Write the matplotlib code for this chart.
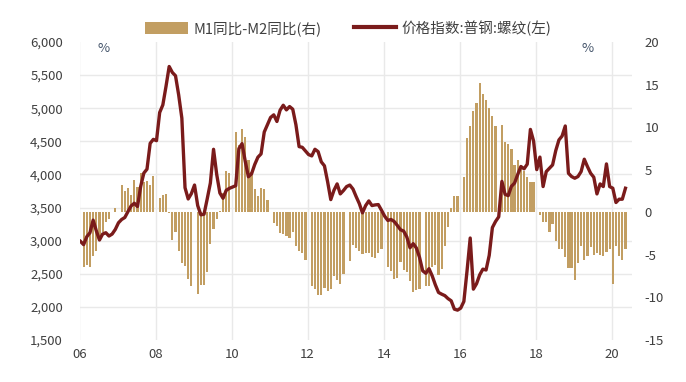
import numpy as np
import matplotlib
matplotlib.use("Agg")
import matplotlib.pyplot as plt
from matplotlib.patches import Patch
from matplotlib.lines import Line2D

plt.rcParams['font.family'] = ['Noto Sans CJK SC', 'DejaVu Sans']

nan = np.nan
# M1 YoY - M2 YoY (%, right axis), monthly Jan..Dec
spread_2006 = [nan, -6.4, -6.2, -6.4, -5.1, -4.5, -3.1, -2.3, -1.1, -0.8, 0.0, 0.5]
spread_2007 = [nan, 3.2, 2.5, 2.9, 2.0, 3.8, 3.0, 4.6, 3.6, 3.7, 3.2, 4.3]
spread_2008 = [nan, 1.7, 2.0, 2.1, -0.1, -3.2, -2.3, -4.6, -5.9, -6.3, -7.8, -8.7]
spread_2009 = [nan, -9.6, -8.5, -8.5, -7.0, -3.7, -2.0, -0.8, 0.2, 2.3, 4.8, 4.6]
spread_2010 = [nan, 9.4, 7.9, 9.8, 8.8, 6.1, 4.7, 2.7, 1.9, 2.8, 2.7, 1.5]
spread_2011 = [nan, -1.2, -1.6, -2.4, -2.5, -2.8, -3.0, -2.3, -4.0, -4.5, -4.8, -5.6]
spread_2012 = [nan, -8.6, -9.0, -9.7, -9.7, -8.9, -9.3, -9.0, -7.5, -8.0, -8.4, -7.3]
spread_2013 = [nan, -5.7, -3.8, -4.2, -4.5, -4.9, -4.8, -4.8, -5.3, -5.4, -4.8, -4.3]
spread_2014 = [nan, -6.4, -6.9, -7.8, -7.7, -5.8, -6.8, -7.0, -8.1, -9.4, -9.1, -9.0]
spread_2015 = [nan, -8.6, -8.7, -6.4, -6.2, -7.4, -6.7, -4.0, -1.7, 0.5, 1.9, 1.9]
spread_2016 = [nan, 4.1, 8.7, 10.1, 11.9, 12.8, 15.2, 13.9, 13.2, 12.3, 11.3, 10.1]
spread_2017 = [nan, 10.3, 8.2, 8.0, 7.4, 5.6, 6.1, 5.1, 4.8, 4.2, 3.6, 3.6]
spread_2018 = [nan, -0.3, -1.1, -1.1, -2.3, -1.4, -3.4, -4.3, -4.3, -5.3, -6.5, -6.6]
spread_2019 = [-8.0, -6.0, -4.0, -5.6, -5.1, -4.1, -5.0, -4.8, -5.0, -5.1, -4.7, -4.3]
spread_2020 = [-8.4, -4.0, -5.1, -5.6, -4.3]

# Rebar price index (left axis), monthly Jan..Dec
price_2006 = [2990, 2940, 3060, 3120, 3310, 3150, 3010, 3100, 3120, 3070, 3100, 3170]
price_2007 = [3270, 3320, 3350, 3440, 3525, 3565, 3515, 3817, 4020, 4080, 4470, 4530]
price_2008 = [4510, 4935, 5050, 5330, 5630, 5540, 5490, 5200, 4850, 3800, 3630, 3710]
price_2009 = [3840, 3530, 3390, 3400, 3630, 3870, 4380, 4000, 3720, 3640, 3760, 3790]
price_2010 = [3810, 3830, 4390, 4465, 4200, 3965, 4010, 4150, 4260, 4310, 4640, 4750]
price_2011 = [4860, 4900, 4800, 4970, 5045, 4975, 5025, 4985, 4750, 4420, 4410, 4355]
price_2012 = [4300, 4280, 4380, 4345, 4190, 4130, 3890, 3620, 3760, 3857, 3706, 3757]
price_2013 = [3817, 3840, 3780, 3666, 3560, 3420, 3530, 3600, 3530, 3540, 3545, 3460]
price_2014 = [3370, 3305, 3320, 3290, 3230, 3165, 3145, 3055, 2893, 2955, 2890, 2750]
price_2015 = [2545, 2507, 2577, 2469, 2333, 2218, 2192, 2170, 2125, 2092, 1966, 1951]
price_2016 = [1981, 2082, 2544, 3040, 2268, 2350, 2484, 2570, 2557, 2778, 3198, 3290]
price_2017 = [3360, 3895, 3700, 3680, 3820, 3870, 4000, 4120, 4085, 4155, 4680, 4505]
price_2018 = [4073, 4262, 3817, 4043, 4094, 4144, 4360, 4521, 4580, 4732, 4018, 3968]
price_2019 = [3943, 3968, 4043, 4230, 4119, 4018, 3958, 3706, 3857, 3817, 4159, 3817]
price_2020 = [3792, 3576, 3626, 3626, 3792]

x_tick_years = [2006, 2008, 2010, 2012, 2014, 2016, 2018, 2020]
x_tick_labels = ['06', '08', '10', '12', '14', '16', '18', '20']
left_ticks = list(range(1500, 6001, 500))
right_ticks = list(range(-15, 21, 5))

spread = np.array(spread_2006 + spread_2007 + spread_2008 + spread_2009 + spread_2010 +
                  spread_2011 + spread_2012 + spread_2013 + spread_2014 + spread_2015 +
                  spread_2016 + spread_2017 + spread_2018 + spread_2019 + spread_2020, dtype=float)
price = np.array(price_2006 + price_2007 + price_2008 + price_2009 + price_2010 +
                 price_2011 + price_2012 + price_2013 + price_2014 + price_2015 +
                 price_2016 + price_2017 + price_2018 + price_2019 + price_2020, dtype=float)
n = len(price)
t = 2006 + (np.arange(n) + 0.3) / 12.0

BAR = '#C29E62'
LINE = '#7A1B1B'
GRID = '#E9E9E9'
TXT = '#404040'

fig = plt.figure(figsize=(6.86, 3.82), dpi=100)
ax = fig.add_axes([79.5/686, 1 - 340/382, (632 - 79.5)/686, 298/382])
ax2 = ax.twinx()

L0, L1 = 1500, 6000
R0, R1 = -15, 20

ok = ~np.isnan(spread)
ax.bar(t[ok], spread[ok], width=0.70/12, color=BAR, edgecolor='none', zorder=2)
ax.set_ylim(R0, R1)
ax.set_xlim(2006.0, 2020.53)
ax.yaxis.set_ticks_position('right')
ax.set_yticks(right_ticks)
ax.set_yticklabels([str(v) for v in right_ticks])
# grid lines at left-axis tick levels, drawn on the bar axes (behind bars)
grid_pos = [R0 + (v - L0) / (L1 - L0) * (R1 - R0) for v in left_ticks]
ax.set_yticks(grid_pos, minor=True)
ax.grid(which='minor', axis='y', color=GRID, linewidth=1.0, zorder=0)
ax.set_xticks(x_tick_years)
ax.set_xticklabels(x_tick_labels)
ax.grid(which='major', axis='x', color=GRID, linewidth=1.0, zorder=0)
ax.set_axisbelow(True)
ax.tick_params(axis='y', which='both', length=0, pad=9, labelsize=9.5, colors=TXT)
ax.tick_params(axis='x', length=0, pad=6, labelsize=9.5, colors=TXT)

ax2.plot(t, price, color=LINE, linewidth=2.4, solid_joinstyle='round', zorder=3)
ax2.set_ylim(L0, L1)
ax2.yaxis.set_ticks_position('left')
ax2.set_yticks(left_ticks)
ax2.set_yticklabels([f'{v:,}' for v in left_ticks])
ax2.tick_params(axis='y', length=0, pad=12, labelsize=9.5, colors=TXT)

for a in (ax, ax2):
    for s in a.spines.values():
        s.set_visible(False)

fig.text(104/686, 1 - 48/382, '%', fontsize=9.5, color='#44546A', ha='center', va='center')
fig.text(588/686, 1 - 48/382, '%', fontsize=9.5, color='#44546A', ha='center', va='center')

handles = [Patch(facecolor=BAR, edgecolor='none'),
           Line2D([0], [0], color=LINE, linewidth=3)]
labels = ['M1同比-M2同比(右)', '价格指数:普钢:螺纹(左)']
fig.legend(handles, labels, loc='center', bbox_to_anchor=(0.508, 1 - 28/382), ncol=2,
           frameon=False, fontsize=10.5, handlelength=2.9, handleheight=0.9,
           columnspacing=2.2, handletextpad=0.4, labelcolor=TXT)

fig.savefig('out.png', dpi=100)
